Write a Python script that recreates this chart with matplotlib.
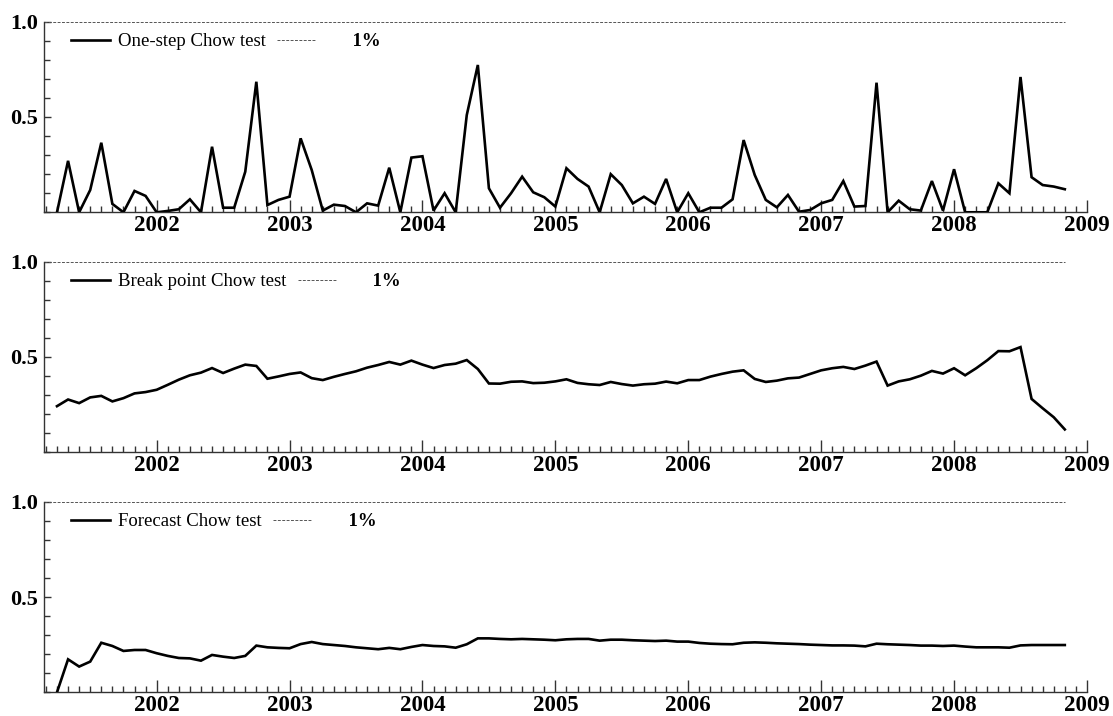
import numpy as np
import matplotlib.pyplot as plt
from matplotlib.ticker import MultipleLocator, FixedLocator

# ── Data: monthly Chow test probabilities, Apr 2001 – Nov 2008 ────────────────
START_YEAR, START_MONTH = 2001, 4
N_MONTHS = 92
dates = START_YEAR + (START_MONTH - 1) / 12 + np.arange(N_MONTHS) / 12

one_step = [
    0.0, 0.27, 0.0, 0.117, 0.365, 0.044, 0.0, 0.112, 0.086,
    0.0, 0.007, 0.016, 0.068, 0.0, 0.344, 0.024, 0.024, 0.213, 0.685, 0.038, 0.065,
    0.082, 0.388, 0.222, 0.009, 0.04, 0.033, 0.0, 0.047, 0.035, 0.234, 0.0, 0.287,
    0.294, 0.009, 0.1, 0.0, 0.51, 0.773, 0.126, 0.024, 0.1, 0.187, 0.105, 0.079,
    0.03, 0.231, 0.175, 0.135, 0.0, 0.2, 0.143, 0.047, 0.082, 0.044, 0.175, 0.0,
    0.1, 0.0, 0.024, 0.024, 0.068, 0.379, 0.196, 0.065, 0.026, 0.091, 0.003, 0.012,
    0.047, 0.065, 0.164, 0.03, 0.033, 0.68, 0.0, 0.061, 0.016, 0.009, 0.164, 0.009,
    0.226, 0.0, 0.0, 0.0, 0.152, 0.1, 0.71, 0.184, 0.143, 0.135, 0.121,
]

break_point = [
    0.242, 0.277, 0.258, 0.288, 0.296, 0.267, 0.284, 0.309, 0.316,
    0.328, 0.354, 0.381, 0.404, 0.418, 0.442, 0.416, 0.439, 0.46, 0.453, 0.386, 0.398,
    0.411, 0.419, 0.389, 0.379, 0.396, 0.411, 0.425, 0.444, 0.458, 0.474, 0.46, 0.481,
    0.46, 0.442, 0.458, 0.465, 0.484, 0.437, 0.361, 0.36, 0.37, 0.372, 0.363, 0.365,
    0.372, 0.383, 0.364, 0.357, 0.353, 0.369, 0.358, 0.35, 0.357, 0.36, 0.371, 0.362,
    0.379, 0.379, 0.397, 0.411, 0.423, 0.43, 0.385, 0.369, 0.376, 0.388, 0.392, 0.411,
    0.43, 0.441, 0.448, 0.437, 0.455, 0.476, 0.35, 0.372, 0.383, 0.402, 0.427, 0.413,
    0.441, 0.404, 0.441, 0.483, 0.531, 0.53, 0.552, 0.28, 0.231, 0.184, 0.12,
]

forecast = [
    0.0, 0.173, 0.135, 0.161, 0.26, 0.243, 0.217, 0.222, 0.222,
    0.205, 0.191, 0.18, 0.178, 0.166, 0.196, 0.187, 0.18, 0.191, 0.245, 0.236, 0.233,
    0.231, 0.253, 0.264, 0.253, 0.248, 0.243, 0.236, 0.231, 0.226, 0.233, 0.226, 0.238,
    0.248, 0.243, 0.241, 0.234, 0.252, 0.283, 0.283, 0.28, 0.278, 0.28, 0.278, 0.276,
    0.273, 0.278, 0.28, 0.28, 0.271, 0.276, 0.276, 0.273, 0.271, 0.269, 0.271, 0.266,
    0.266, 0.259, 0.255, 0.253, 0.252, 0.26, 0.262, 0.26, 0.257, 0.255, 0.253, 0.25,
    0.248, 0.246, 0.246, 0.245, 0.241, 0.255, 0.252, 0.25, 0.248, 0.245, 0.245, 0.243,
    0.245, 0.24, 0.236, 0.236, 0.236, 0.234, 0.246, 0.248, 0.248, 0.248, 0.248,
]

PANELS = [
    ('One-step Chow test', one_step),
    ('Break point Chow test', break_point),
    ('Forecast Chow test', forecast),
]
CRIT_LEVEL = 1.0
CRIT_LABEL = '1%'
YEARS = list(range(2002, 2010))

# ── Style ─────────────────────────────────────────────────────────────────────
plt.rcParams['font.family'] = ['Liberation Serif', 'DejaVu Serif']
X_LEFT, X_RIGHT = 2001.152, 2009.0
AX_LEFT, AX_WIDTH, AX_HEIGHT = 0.0395, 0.9371, 0.2662
AX_BOTTOMS = [0.7035, 0.3683, 0.0331]

fig = plt.figure(figsize=(11.13, 7.16), dpi=100)
fig.patch.set_facecolor('white')

for (label, values), bottom in zip(PANELS, AX_BOTTOMS):
    ax = fig.add_axes([AX_LEFT, bottom, AX_WIDTH, AX_HEIGHT])

    ax.plot(dates, values, color='black', linewidth=1.9, solid_joinstyle='miter',
            label=label, zorder=3)
    ax.hlines(CRIT_LEVEL, X_LEFT, dates[-1], color='#555555', linewidth=0.7,
              linestyles=(0, (3, 1.5)), label='      ' + CRIT_LABEL,
              clip_on=False, zorder=2)

    ax.set_xlim(X_LEFT, X_RIGHT)
    ax.set_ylim(0, 1.0)

    for side in ('top', 'right'):
        ax.spines[side].set_visible(False)
    for side in ('left', 'bottom'):
        ax.spines[side].set_color('#333333')
        ax.spines[side].set_linewidth(1.0)

    # x axis: yearly labels, monthly minor ticks
    ax.xaxis.set_major_locator(FixedLocator(YEARS))
    ax.xaxis.set_minor_locator(MultipleLocator(1 / 12))
    ax.set_xticklabels([str(y) for y in YEARS])
    # y axis: 0.5 / 1.0 labelled, 0.1 minor
    ax.yaxis.set_major_locator(FixedLocator([0.5, 1.0]))
    ax.yaxis.set_minor_locator(MultipleLocator(0.1))

    ax.tick_params(axis='both', which='major', direction='in', length=9,
                   width=1.0, color='#333333')
    ax.tick_params(axis='both', which='minor', direction='in', length=4,
                   width=1.0, color='#333333')
    ax.tick_params(axis='x', which='major', labelsize=16.5, pad=2)
    ax.tick_params(axis='y', which='major', length=5, pad=4, labelsize=16)
    for t in ax.get_xticklabels() + ax.get_yticklabels():
        t.set_fontweight('bold')

    leg = ax.legend(loc='center left', bbox_to_anchor=(0.026, 0.895), ncol=2,
                    frameon=False, fontsize=13.5, handlelength=2.1,
                    handletextpad=0.4, columnspacing=0.6, borderpad=0,
                    borderaxespad=0)
    leg.get_texts()[1].set_fontweight('bold')

fig.savefig('out.png', dpi=100)
plt.close(fig)
